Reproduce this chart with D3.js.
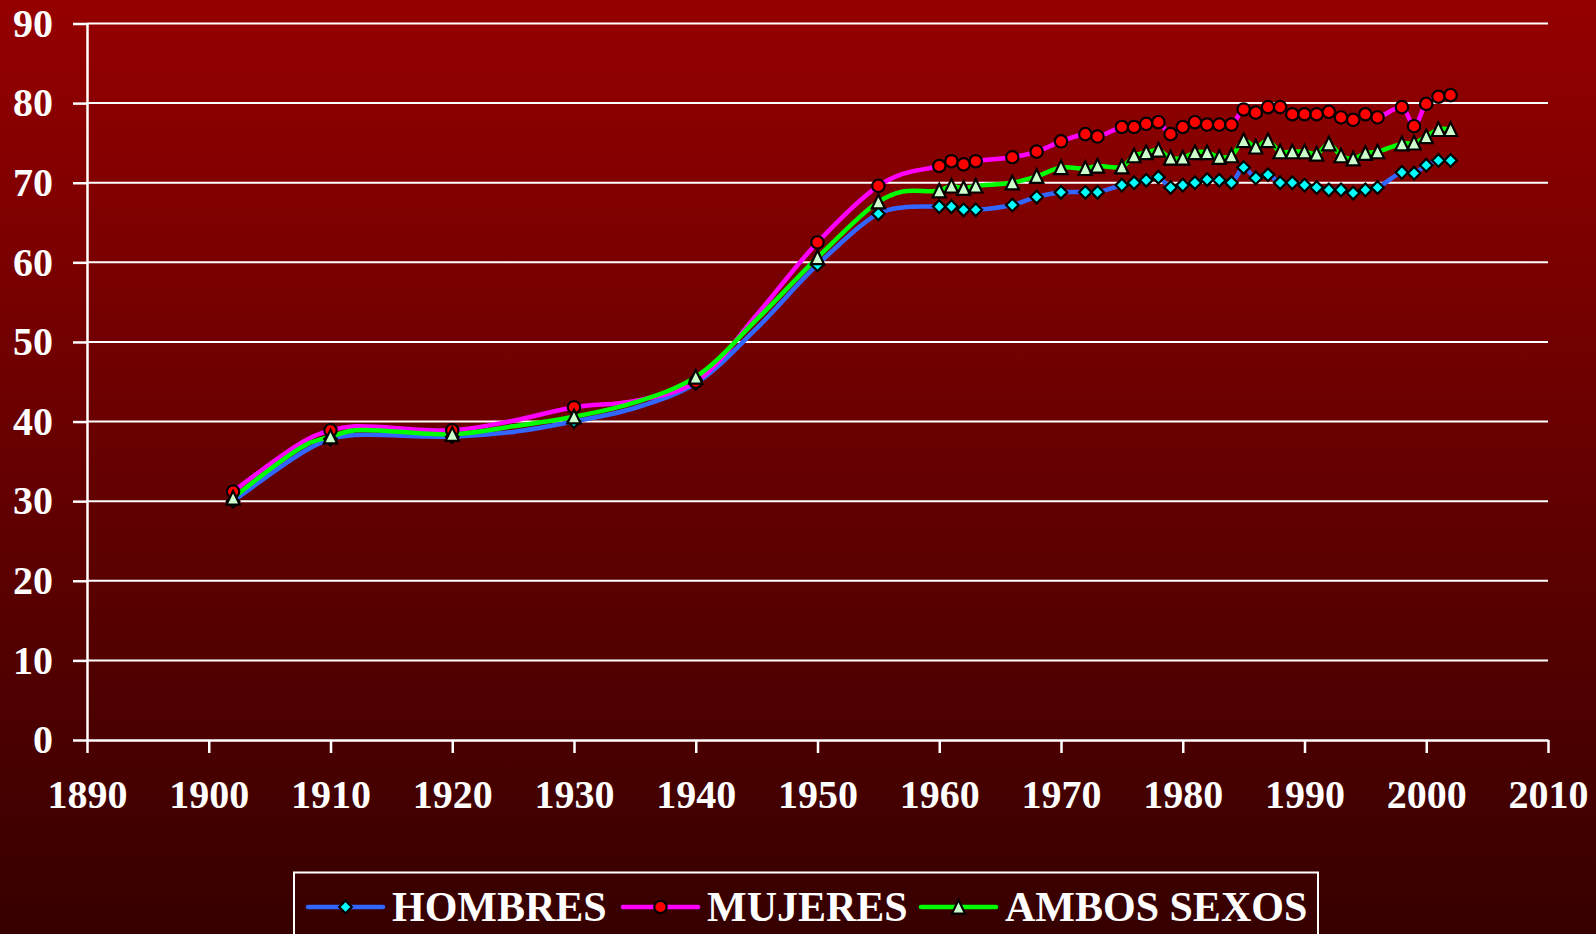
<!DOCTYPE html>
<html>
<head>
<meta charset="utf-8">
<script src="https://cdn.jsdelivr.net/npm/d3@7"></script>
<style>
	html, body { margin: 0; padding: 0; background: #370000; }
	svg { display: block; }
	text { font-family: "Liberation Serif", "Times New Roman", serif; font-weight: bold; fill: #fff; }
</style>
</head>
<body>
<svg id="chart" width="1596" height="934"></svg>
<script>
"use strict";

// años con dato (los que no llevan marcador son puntos intermedios de la curva)
var years = [1902, 1908, 1910, 1912, 1920, 1925, 1930, 1935, 1940, 1945, 1950, 1955, 1957,
	1960, 1961, 1962, 1963, 1966, 1968, 1970, 1972, 1973, 1975, 1976, 1977, 1978, 1979,
	1980, 1981, 1982, 1983, 1984, 1985, 1986, 1987, 1988, 1989, 1990, 1991, 1992, 1993,
	1994, 1995, 1996, 1998, 1999, 2000, 2001, 2002];
var unmarkedYears = [1908, 1912, 1925, 1935, 1945, 1957];

var hombres = [30.0, 36.4, 37.8, 38.3, 38.1, 38.7, 40.0, 41.7, 44.8, 51.7, 59.7, 66.1, 66.9,
	67.0, 67.0, 66.6, 66.6, 67.2, 68.2, 68.8, 68.8, 68.8, 69.7, 70.0, 70.3, 70.7, 69.4,
	69.7, 70.0, 70.4, 70.3, 70.0, 71.9, 70.6, 71.0, 70.0, 70.0, 69.7, 69.4, 69.1, 69.1,
	68.7, 69.1, 69.4, 71.3, 71.2, 72.2, 72.8, 72.8];
var mujeres = [31.2, 37.7, 38.9, 39.4, 38.9, 40.1, 41.8, 42.6, 45.0, 53.4, 62.5, 69.6, 71.1,
	72.1, 72.7, 72.3, 72.7, 73.2, 73.9, 75.2, 76.1, 75.8, 77.0, 77.0, 77.4, 77.6, 76.1,
	77.0, 77.6, 77.3, 77.3, 77.3, 79.2, 78.8, 79.5, 79.5, 78.6, 78.6, 78.6, 78.9, 78.2,
	77.9, 78.6, 78.2, 79.5, 77.1, 79.9, 80.8, 81.0];
var ambos = [30.4, 37.1, 38.1, 38.9, 38.4, 39.4, 40.6, 42.4, 45.6, 52.8, 60.6, 67.6, 68.9,
	69.0, 69.6, 69.3, 69.6, 70.0, 70.8, 71.9, 71.8, 72.1, 72.0, 73.4, 73.8, 74.1, 73.1,
	73.1, 73.8, 73.8, 73.2, 73.4, 75.3, 74.5, 75.3, 73.9, 73.9, 73.9, 73.6, 74.9, 73.4,
	73.0, 73.7, 73.9, 74.9, 75.0, 75.8, 76.7, 76.7];

var seriesNames = ["HOMBRES", "MUJERES", "AMBOS SEXOS"];
var xTicks = [1890, 1900, 1910, 1920, 1930, 1940, 1950, 1960, 1970, 1980, 1990, 2000, 2010];
var yTicks = [0, 10, 20, 30, 40, 50, 60, 70, 80, 90];

(function() {
	var svg = d3.select("#chart");
	var W = 1596, H = 934;
	var left = 87, right = 1548, top = 23.5, bottom = 740;

	var styles = [
		{line: "#3366ff", fill: "#00ffff", shape: "diamond"},
		{line: "#ff00ff", fill: "#ff0000", shape: "circle"},
		{line: "#00ff00", fill: "#ccffcc", shape: "triangle"}
	];
	var values = [hombres, mujeres, ambos];

	var series = seriesNames.map(function(name, i) {
		return {
			name: name,
			style: styles[i],
			points: years.map(function(yr, j) {
				return {year: yr, value: values[i][j], marked: unmarkedYears.indexOf(yr) < 0};
			})
		};
	});

	// fondo degradado
	var grad = svg.append("defs").append("linearGradient")
		.attr("id", "bg").attr("x1", 0).attr("y1", 0).attr("x2", 0).attr("y2", 1);
	grad.append("stop").attr("offset", "0%").attr("stop-color", "#950000");
	grad.append("stop").attr("offset", "100%").attr("stop-color", "#360000");
	svg.append("rect").attr("width", W).attr("height", H).attr("fill", "url(#bg)");

	var x = d3.scaleLinear().domain([1890, 2010]).range([left, right]);
	var y = d3.scaleLinear().domain([0, 90]).range([bottom, top]);

	// rejilla
	svg.append("g").selectAll("line")
		.data(yTicks.filter(function(d) { return d > 0; }))
		.join("line")
		.attr("x1", left).attr("x2", right)
		.attr("y1", function(d) { return y(d); })
		.attr("y2", function(d) { return y(d); })
		.attr("stroke", "#fff").attr("stroke-width", 2);

	var yAxis = svg.append("g")
		.attr("transform", "translate(" + left + ",0)")
		.call(d3.axisLeft(y).tickValues(yTicks).tickSize(14).tickPadding(20).tickSizeOuter(0));
	var xAxis = svg.append("g")
		.attr("transform", "translate(0," + bottom + ")")
		.call(d3.axisBottom(x).tickValues(xTicks).tickFormat(d3.format("d"))
			.tickSize(13).tickPadding(27).tickSizeOuter(0));

	[yAxis, xAxis].forEach(function(g) {
		g.selectAll(".domain").attr("stroke", "#fff").attr("stroke-width", 2.5);
		g.selectAll(".tick line").attr("stroke", "#fff").attr("stroke-width", 2.5);
		g.selectAll(".tick text")
			.attr("fill", "#fff")
			.style("font-family", "'Liberation Serif', 'Times New Roman', serif")
			.style("font-weight", "bold")
			.style("font-size", "40px");
	});

	var line = d3.line()
		.x(function(d) { return x(d.year); })
		.y(function(d) { return y(d.value); })
		.curve(d3.curveCatmullRom.alpha(0.5));

	function markerPath(shape) {
		if (shape === "circle") {
			return d3.symbol(d3.symbolCircle, Math.PI * 6.2 * 6.2)();
		}
		if (shape === "diamond") {
			return "M0,-6.3L6.3,0L0,6.3L-6.3,0Z";
		}
		return "M0,-7L6.6,6.6L-6.6,6.6Z";
	}

	svg.append("g").selectAll("path")
		.data(series)
		.join("path")
		.attr("d", function(s) { return line(s.points); })
		.attr("fill", "none")
		.attr("stroke", function(s) { return s.style.line; })
		.attr("stroke-width", 4.5)
		.attr("stroke-linejoin", "round");

	series.forEach(function(s) {
		svg.append("g").selectAll("path")
			.data(s.points.filter(function(p) { return p.marked; }))
			.join("path")
			.attr("transform", function(p) { return "translate(" + x(p.year) + "," + y(p.value) + ")"; })
			.attr("d", markerPath(s.style.shape))
			.attr("fill", s.style.fill)
			.attr("stroke", "#000")
			.attr("stroke-width", 2.2);
	});

	// leyenda
	var legend = svg.append("g");
	legend.append("rect")
		.attr("x", 294).attr("y", 872.5)
		.attr("width", 1024).attr("height", 90)
		.attr("fill", "none").attr("stroke", "#fff").attr("stroke-width", 2);

	var legendX = [308, 623, 921];
	series.forEach(function(s, i) {
		var g = legend.append("g").attr("transform", "translate(" + legendX[i] + ",907)");
		g.append("line")
			.attr("x1", 0).attr("x2", 75)
			.attr("stroke", s.style.line).attr("stroke-width", 4.5)
			.attr("stroke-linecap", "round");
		g.append("path")
			.attr("transform", "translate(37.5,0)")
			.attr("d", markerPath(s.style.shape))
			.attr("fill", s.style.fill)
			.attr("stroke", "#000").attr("stroke-width", 2.2);
		g.append("text")
			.attr("x", 84).attr("y", 14)
			.style("font-size", "42px")
			.text(s.name);
	});
}());
</script>
</body>
</html>
